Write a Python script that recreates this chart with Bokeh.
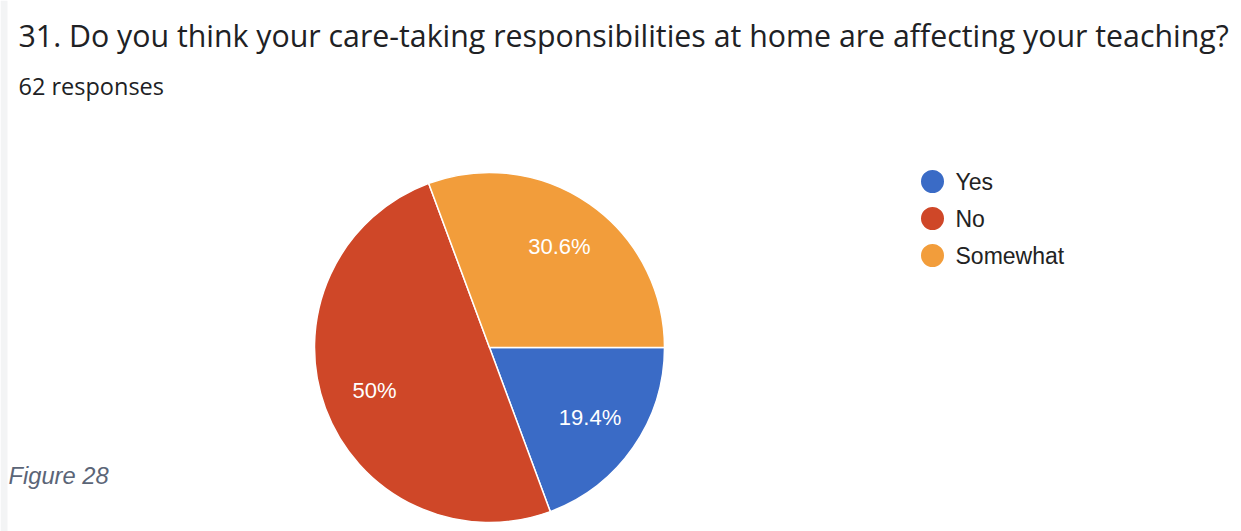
import numpy as np
from bokeh.plotting import figure
from bokeh.models import ColumnDataSource, Range1d, Label
from bokeh.core.properties import value
from bokeh.embed import file_html
from bokeh.resources import INLINE

title = "31. Do you think your care-taking responsibilities at home are affecting your teaching?"
subtitle = "62 responses"
caption = "Figure 28"
categories = ["Yes", "No", "Somewhat"]
counts = [12, 31, 19]
colors = ["#3a6bc6", "#cf4728", "#f29d3b"]

W, H = 1241, 531
p = figure(width=W, height=H, output_backend="svg", toolbar_location=None,
           x_range=Range1d(0, W), y_range=Range1d(0, H), min_border=0)
p.axis.visible = False
p.grid.visible = False
p.outline_line_color = None
p.background_fill_color = "white"
p.border_fill_color = "white"

def Y(y):
    return H - y

# faint left strip like the reference
p.quad(left=0, right=7, bottom=0, top=H, color="#f3f4f5", line_color=None)

cx, cy, r = 489, Y(347), 175
total = sum(counts)
fr = np.array(counts) / total
cum = np.concatenate([[0], np.cumsum(fr)])
start = -cum[:-1] * 2 * np.pi
end = -cum[1:] * 2 * np.pi
mid = (start + end) / 2
labels = [f"{round(f * 100, 1):g}%" for f in fr]
src = ColumnDataSource(dict(cat=categories, start=start, end=end, color=colors,
                            lx=cx + 0.70 * r * np.cos(mid), ly=cy + 0.70 * r * np.sin(mid),
                            lab=labels))
p.wedge(x=cx, y=cy, radius=r, radius_units="screen", start_angle="start", end_angle="end",
        direction="clock", fill_color="color", line_color="white", line_width=1.5, source=src)
p.text(x="lx", y="ly", text="lab", source=src, text_color="white", text_font=value("Liberation Sans"),
       text_font_size="22px", text_align="center", text_baseline="middle")

# legend
leg_y = [Y(181), Y(218), Y(255)]
lsrc = ColumnDataSource(dict(x=[932] * 3, y=leg_y, color=colors, cat=categories,
                             tx=[955] * 3))
p.scatter(x="x", y="y", size=23, color="color", line_color=None, source=lsrc)
p.text(x="tx", y="y", text="cat", source=lsrc, text_color="#222222",
       text_font=value("Liberation Sans"), text_font_size="23px", text_baseline="middle")

p.add_layout(Label(x=18, y=Y(35), text=title, text_font="Open Sans", text_font_size="30.3px",
                   text_color="#202124", text_baseline="middle"))
p.add_layout(Label(x=18, y=Y(85), text=subtitle, text_font="Open Sans", text_font_size="23.5px",
                   text_color="#202124", text_baseline="middle"))
p.add_layout(Label(x=8, y=Y(475), text=caption, text_font="Liberation Sans", text_font_size="23.7px",
                   text_font_style="italic", text_color="#5b6577", text_baseline="middle"))

open("out.html", "w").write(file_html(p, INLINE))
